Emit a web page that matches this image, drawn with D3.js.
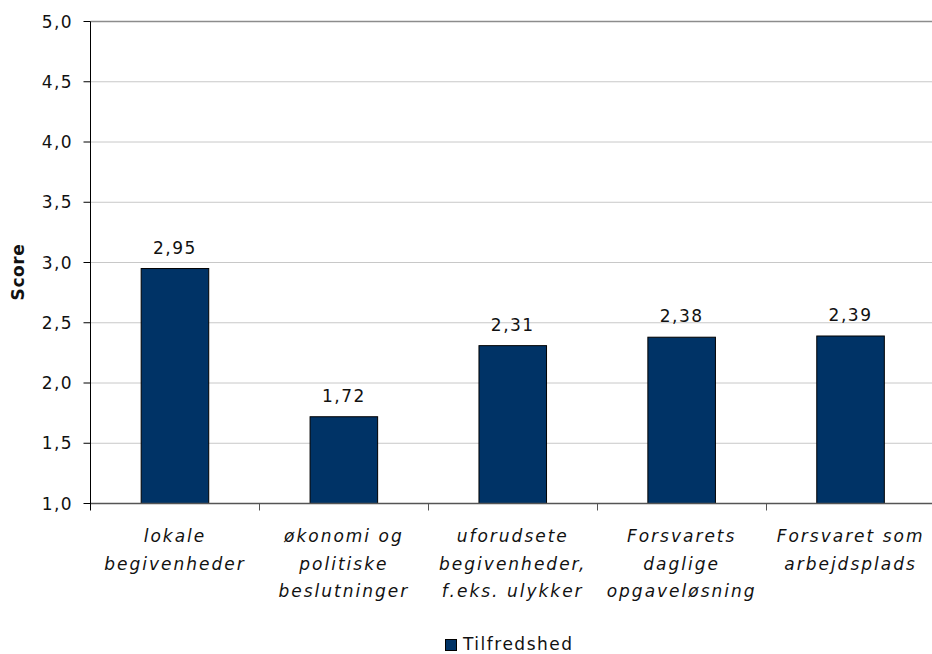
<!DOCTYPE html>
<html>
<head>
<meta charset="utf-8">
<script src="https://cdn.jsdelivr.net/npm/d3@7"></script>
<style>
  html, body { margin: 0; padding: 0; background: #fff; }
  svg { display: block; }
  text { font-family: "DejaVu Sans", Verdana, sans-serif; fill: #111; }
</style>
</head>
<body>
<svg id="chart" width="932" height="654"></svg>
<script>
const categories = [
  "lokale begivenheder",
  "økonomi og politiske beslutninger",
  "uforudsete begivenheder, f.eks. ulykker",
  "Forsvarets daglige opgaveløsning",
  "Forsvaret som arbejdsplads"
];
const categoryLines = [
  ["lokale", "begivenheder"],
  ["økonomi og", "politiske", "beslutninger"],
  ["uforudsete", "begivenheder,", "f.eks. ulykker"],
  ["Forsvarets", "daglige", "opgaveløsning"],
  ["Forsvaret som", "arbejdsplads"]
];
const values = [2.95, 1.72, 2.31, 2.38, 2.39];
const valueLabels = ["2,95", "1,72", "2,31", "2,38", "2,39"];
const yTicks = [1.0, 1.5, 2.0, 2.5, 3.0, 3.5, 4.0, 4.5, 5.0];
const yTickLabels = ["1,0", "1,5", "2,0", "2,5", "3,0", "3,5", "4,0", "4,5", "5,0"];
const seriesName = "Tilfredshed";
const yTitle = "Score";

const svg = d3.select("#chart");
const mLeft = 90.5, mRight = 935, mTop = 21.5, mBottom = 503.5;
const barColor = "#003366";

const x = d3.scaleBand().domain(categories).range([mLeft, mRight]).padding(0);
const y = d3.scaleLinear().domain([1, 5]).range([mBottom, mTop]);

// gridlines
svg.append("g").selectAll("line").data(yTicks.filter(t => t > 1))
  .join("line")
  .attr("x1", mLeft).attr("x2", 932)
  .attr("y1", d => y(d)).attr("y2", d => y(d))
  .attr("stroke", d => d === 5 ? "#8c8c8c" : "#c8c8c8")
  .attr("stroke-width", d => d === 5 ? 1.5 : 1);

// bars
const bw = x.bandwidth() * 0.4;
svg.append("g").selectAll("rect").data(values)
  .join("rect")
  .attr("x", (d, i) => x(categories[i]) + (x.bandwidth() - bw) / 2)
  .attr("y", d => y(d))
  .attr("width", bw)
  .attr("height", d => y(1) - y(d))
  .attr("fill", barColor)
  .attr("stroke", "#000")
  .attr("stroke-width", 1);

// value labels
svg.append("g").selectAll("text").data(values)
  .join("text")
  .attr("x", (d, i) => x(categories[i]) + x.bandwidth() / 2)
  .attr("y", d => y(d) - 15)
  .attr("text-anchor", "middle")
  .style("font-size", "17px")
  .style("letter-spacing", "1.5px")
  .text((d, i) => valueLabels[i]);

// x axis line
svg.append("line")
  .attr("x1", mLeft).attr("x2", 932)
  .attr("y1", mBottom).attr("y2", mBottom)
  .attr("stroke", "#555").attr("stroke-width", 1.5);

// x ticks at band boundaries
const bounds = categories.map(c => x(c)).slice(1);
svg.append("g").selectAll("line").data(bounds)
  .join("line")
  .attr("x1", d => Math.round(d) + 0.5).attr("x2", d => Math.round(d) + 0.5)
  .attr("y1", mBottom).attr("y2", mBottom + 7)
  .attr("stroke", "#555");

// y axis
svg.append("line")
  .attr("x1", mLeft).attr("x2", mLeft)
  .attr("y1", mTop).attr("y2", mBottom + 7)
  .attr("stroke", "#000").attr("stroke-width", 1);

const yg = svg.append("g");
yg.selectAll("line").data(yTicks).join("line")
  .attr("x1", mLeft - 7).attr("x2", mLeft)
  .attr("y1", d => y(d)).attr("y2", d => y(d))
  .attr("stroke", "#000");
yg.selectAll("text").data(yTicks).join("text")
  .attr("x", 73)
  .attr("y", d => y(d) + 6)
  .attr("text-anchor", "end")
  .style("font-size", "17px")
  .style("letter-spacing", "1.4px")
  .text((d, i) => yTickLabels[i]);

// y title
svg.append("text")
  .attr("transform", "translate(24,272) rotate(-90)")
  .attr("text-anchor", "middle")
  .style("font-size", "17px")
  .style("font-weight", "bold")
  .style("letter-spacing", "0.6px")
  .text(yTitle);

// category labels
const cg = svg.append("g");
categoryLines.forEach((lines, i) => {
  const t = cg.append("text")
    .attr("x", x(categories[i]) + x.bandwidth() / 2)
    .attr("y", 542)
    .attr("text-anchor", "middle")
    .style("font-size", "17px")
    .style("font-style", "italic")
    .style("letter-spacing", "2px");
  lines.forEach((ln, j) => {
    t.append("tspan")
      .attr("x", x(categories[i]) + x.bandwidth() / 2)
      .attr("y", 542 + j * 27.5)
      .text(ln);
  });
});

// legend
const lg = svg.append("g");
lg.append("rect")
  .attr("x", 445.5).attr("y", 639.5)
  .attr("width", 11).attr("height", 11)
  .attr("fill", barColor).attr("stroke", "#000");
lg.append("text")
  .attr("x", 463).attr("y", 650)
  .style("font-size", "17px")
  .style("letter-spacing", "1.5px")
  .text(seriesName);
</script>
</body>
</html>
